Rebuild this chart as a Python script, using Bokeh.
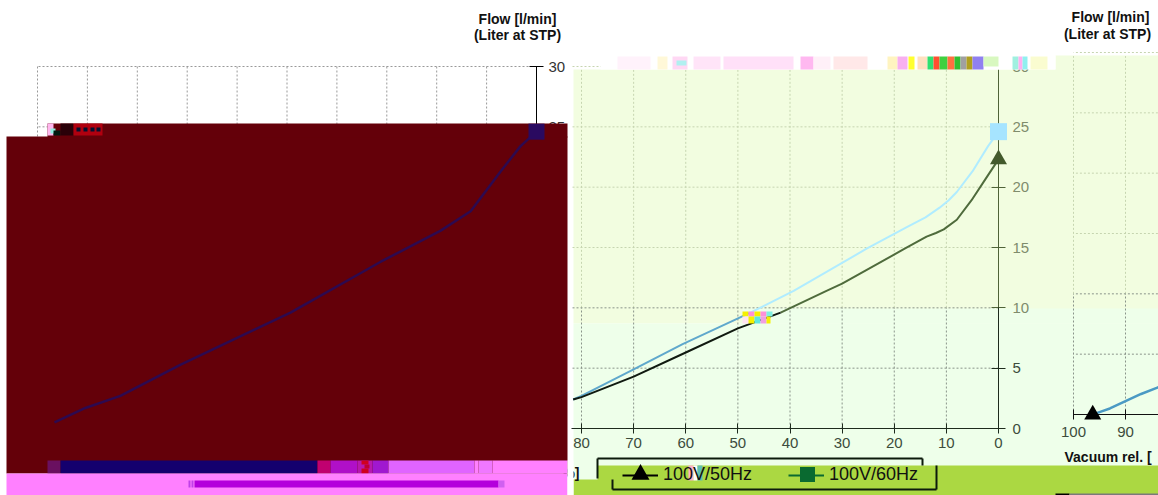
from bokeh.plotting import figure
from bokeh.models import Range1d, LinearAxis, FixedTicker, Legend, LegendItem
from bokeh.core.properties import value
from bokeh.embed import file_html
from bokeh.resources import INLINE

# ---- data (vacuum rel. %, flow l/min) ----
vac_50hz = [0, 2, 5.2, 8, 10.5, 12, 13.8, 18, 30, 33, 41.8, 50, 60, 70, 80, 81.6]
flow_50hz = [22.3, 21.0, 18.9, 17.3, 16.5, 16.2, 15.9, 14.9, 12.0, 11.4, 9.6, 8.3, 6.3, 4.3, 2.6, 2.4]
vac_60hz = [0, 2, 5, 8, 9.6, 11.3, 14, 17.5, 25.3, 39.3, 47.6, 60.6, 70, 80, 81.6]
flow_60hz = [24.6, 23.4, 21.3, 19.6, 18.9, 18.3, 17.5, 16.7, 14.9, 11.4, 9.6, 7.0, 4.9, 2.7, 2.4]
vac_left = [96.6, 90.4, 83.4, 71.3, 49.3, 31.3, 19.2, 13.2, 7.2, 3.2, 0]
flow_left = [0.5, 1.7, 2.7, 5.3, 9.6, 13.8, 16.4, 18.0, 21.3, 23.4, 24.6]
vac_third = [96.3, 95, 93, 90, 87, 84, 83]
flow_third = [0.0, 0.2, 0.5, 1.1, 1.7, 2.2, 2.4]
x_ticks = [100, 90, 80, 70, 60, 50, 40, 30, 20, 10, 0]
y_ticks = [0, 5, 10, 15, 20, 25, 30]
series_names = ["100V/50Hz", "100V/60Hz"]
title_lines = ["Flow [l/min]", "(Liter at STP)"]
x_title_start = "Vacuum rel. ["
x_title_end = "%]"

FONT = "Liberation Sans"
X0, X1, Y0, Y1 = 0, 1158, 0, 495

p = figure(width=X1 - X0, height=Y1 - Y0, output_backend="svg", toolbar_location=None,
           x_range=Range1d(X0, X1), y_range=Range1d(Y1, Y0),
           x_axis_location=None, y_axis_location=None, min_border=0,
           outline_line_color=None, background_fill_color="#ffffff")
p.xgrid.visible = False
p.ygrid.visible = False


def lin(pa, va, pb, vb, lo, hi):
    s = (vb - va) / (pb - pa)
    return Range1d(va + (lo - pa) * s, va + (hi - pa) * s)


p.extra_x_ranges = {"L": lin(37, 100, 536, 0, X0, X1), "M": lin(998, 0, 581, 80, X0, X1),
                    "R": lin(1073, 100, 1125, 90, X0, X1)}
p.extra_y_ranges = {"L": lin(428, 0, 66, 30, Y1, Y0), "M": lin(428, 0, 66, 30, Y1, Y0),
                    "R": lin(414, 0, 52, 30, Y1, Y0)}


def blocks(items, level):
    p.quad(left=[b[0] for b in items], right=[b[2] for b in items],
           top=[b[1] for b in items], bottom=[b[3] for b in items],
           fill_color=[b[4] for b in items], line_color=None, level=level)


def xaxis(name, xb, xt, color, label_color, standoff):
    ax = LinearAxis(x_range_name=name, y_range_name=name, fixed_location=0, bounds=xb,
                    ticker=FixedTicker(ticks=xt), major_tick_in=5, major_tick_out=5,
                    minor_tick_line_color=None, axis_line_color=color, major_tick_line_color=color,
                    major_label_text_font=FONT, major_label_text_font_size="15px",
                    major_label_text_color=label_color, major_label_standoff=standoff)
    p.add_layout(ax, "below")


def yaxis(name, yb, yt, color, label_color, standoff):
    ax = LinearAxis(x_range_name=name, y_range_name=name, fixed_location=0, bounds=yb,
                    ticker=FixedTicker(ticks=yt), major_tick_in=7, major_tick_out=7,
                    minor_tick_line_color=None, axis_line_color=color, major_tick_line_color=color,
                    major_label_text_font=FONT, major_label_text_font_size="15px",
                    major_label_text_color=label_color, major_label_standoff=standoff)
    p.add_layout(ax, "right")


# ---- background bands ----
UP, LOW, GREEN = "#f2fde0", "#eeffea", "#abd842"
blocks([(573, 69, 1158, 323, UP), (1055, 55, 1158, 70, UP), (573, 323, 1158, 466, LOW),
        (573, 465, 597, 480, LOW), (573, 479, 1158, 495, GREEN), (597, 465, 1158, 480, GREEN),
        (742, 308, 1158, 323, LOW)], "underlay")


# ---- grids ----
def vgrid(name, vals, lo, hi, color):
    p.segment(vals, [lo] * len(vals), vals, [hi] * len(vals), x_range_name=name, y_range_name=name,
              line_color=color, line_width=1, line_dash="2 2")


def hgrid(name, vals, lo, hi, color):
    p.segment([lo] * len(vals), vals, [hi] * len(vals), vals, x_range_name=name, y_range_name=name,
              line_color=color, line_width=1, line_dash="2 2")


vgrid("L", x_ticks[:-1], 0, 30, "#999999")
hgrid("L", y_ticks[1:], 0, 100, "#999999")
vgrid("M", x_ticks[2:-1], 10, 29.8, "#c6d5b0")
vgrid("M", x_ticks[2:-1], 0, 10, "#8a948a")
hgrid("M", y_ticks[3:], 0, 82, "#c6d5b0")
hgrid("M", y_ticks[1:3], 0, 82, "#8a948a")
vgrid("R", [100, 90], 0, 10, "#8a948a")
vgrid("R", [100, 90], 10, 29.7, "#c6d5b0")
hgrid("R", y_ticks[3:], 83, 100, "#c6d5b0")
hgrid("R", y_ticks[1:3], 83, 100, "#8a948a")

# ---- axes ----
xaxis("L", (0, 100), x_ticks, "#000000", "#333333", 5)
yaxis("L", (0, 30), y_ticks, "#000000", "#333333", 5)
xaxis("M", (0, 82), x_ticks[2:], "#1d2b1d", "#3c4c3c", 4)
yaxis("M", (10, 29.75), y_ticks[2:], "#4f6338", "#7f8c6c", 7)
yaxis("M", (0, 10), y_ticks[:2], "#1d2b1d", "#3c4c3c", 7)
xaxis("R", (83, 100), x_ticks[:2], "#111111", "#3c4c3c", 7)

# ---- series on middle panel ----
split_60 = vac_60hz.index(47.6)
split_50 = vac_50hz.index(41.8)
p.line(vac_60hz[:split_60 + 1], flow_60hz[:split_60 + 1], x_range_name="M", y_range_name="M", line_color="#b0ecff", line_width=2)
p.line(vac_60hz[split_60:], flow_60hz[split_60:], x_range_name="M", y_range_name="M", line_color="#5fa8cc", line_width=2)
p.line(vac_50hz[:split_50 + 1], flow_50hz[:split_50 + 1], x_range_name="M", y_range_name="M", line_color="#4f6b3c", line_width=2)
p.line(vac_50hz[split_50:], flow_50hz[split_50:], x_range_name="M", y_range_name="M", line_color="#101a10", line_width=2)
p.scatter(vac_60hz[:1], flow_60hz[:1], x_range_name="M", y_range_name="M", marker="square", size=17,
          fill_color="#a6e4ff", line_color=None, level="annotation")
p.scatter(vac_50hz[:1], flow_50hz[:1], x_range_name="M", y_range_name="M", marker="triangle", size=17,
          fill_color="#435a2c", line_color=None, level="annotation")

# ---- series on right panel ----
p.line(vac_third, flow_third, x_range_name="R", y_range_name="R", line_color="#4a9ac4", line_width=2.5)
p.scatter(vac_third[:1], flow_third[:1], x_range_name="R", y_range_name="R", marker="triangle", size=17,
          fill_color="#000000", line_color=None, level="annotation")

# ---- texts ----
p.text([517, 517, 1110, 1107], [18, 34, 16, 33], text=title_lines + title_lines, text_font=value(FONT),
       text_font_style="bold", text_font_size="14px", text_align="center", text_baseline="middle",
       text_color="#111111")
p.text([1064], [456], text=[x_title_start], text_font=value(FONT), text_font_style="bold",
       text_font_size="14px", text_baseline="middle", text_color="#111111")
p.text([579], [472], text=[x_title_end], text_font=value(FONT), text_font_style="bold",
       text_font_size="14px", text_align="right", text_baseline="middle", text_color="#111111")

# ---- legend ----
off = [-1e6]
d1 = p.line(off + off, off + off, line_color="#000000", line_width=2)
d2 = p.scatter(off, off, marker="triangle", size=17, fill_color="#000000", line_color=None)
d3 = p.line(off + off, off + off, line_color="#0a6a30", line_width=2)
d4 = p.scatter(off, off, marker="square", size=15, fill_color="#0a6a30", line_color=None)
legend = Legend(items=[LegendItem(label=series_names[0], renderers=[d1, d2]),
                       LegendItem(label=series_names[1], renderers=[d3, d4])],
                orientation="horizontal", location=(622, 10), padding=0, margin=0, spacing=36,
                glyph_width=36, glyph_height=20, label_standoff=5, border_line_color=None,
                background_fill_alpha=0, label_text_font=FONT, label_text_font_size="18px",
                label_text_color="#111111")
p.add_layout(legend, "center")
p.scatter([640], [474], marker="triangle", size=18, fill_color="#000000", line_color=None)
p.scatter([807], [474], marker="square", size=15, fill_color="#0a6a30", line_color=None)

# legend frame pieces
p.segment([597, 597, 922, 612, 612, 936], [458, 458, 458, 479, 489, 465],
          [922, 597, 922, 612, 936, 936], [458, 478, 465, 489, 489, 489],
          line_color="#0c1a0c", line_width=2)

# ---- overlay blocks: left region ----
blocks([(6, 136, 567, 473, "#640009"), (47, 123, 567, 137, "#640009")], "overlay")
p.line(vac_left, flow_left, x_range_name="L", y_range_name="L", line_color="#2d0a50", line_width=2.5, level="overlay")
p.scatter(vac_left[-1:], flow_left[-1:], x_range_name="L", y_range_name="L", marker="square", size=16,
          fill_color="#2a0a60", line_color=None, level="overlay")
blocks([
    (47, 123, 53, 135, "#ffb6ee"), (50, 128, 55, 133, "#90f0e0"), (53, 130, 60, 135, "#001a10"),
    (60, 123, 73, 135, "#2a0008"), (73, 123, 102, 135, "#b0000f"),
    (76, 127, 80, 131, "#041030"), (83, 127, 87, 131, "#041030"), (90, 127, 94, 131, "#041030"), (96, 127, 100, 131, "#041030"),
    (47, 460, 60, 473, "#6a1060"), (60, 460, 317, 473, "#14006e"), (317, 460, 330, 473, "#c00070"),
    (330, 460, 357, 473, "#b010c8"), (357, 460, 372, 473, "#b818b0"), (361, 460, 368, 464, "#d00020"),
    (361, 468, 368, 473, "#d00020"), (364, 464, 369, 468, "#c00030"), (372, 460, 388, 473, "#a018d0"),
    (388, 460, 474, 473, "#e064ff"), (478, 460, 492, 473, "#f078ff"),
    (474, 460, 478, 473, "#ff80ff"), (492, 460, 567, 473, "#ff80ff"),
    (6, 473, 567, 495, "#ff80ff"), (194, 480, 498, 487, "#b400dc"), (188, 480, 190, 487, "#c040e8"),
    (191, 480, 193, 487, "#c040e8"), (498, 480, 504, 487, "#d060f0"),
    (567, 460, 573, 495, "#ffffff"),
], "overlay")

# ---- overlay blocks: right region mosaic ----
blocks([
    (600, 55, 1055, 69, "#ffffff"),
    (617, 56, 650, 69, "#fff2fb"), (657, 56, 667, 69, "#fff8d8"), (672, 56, 687, 69, "#ffd8f4"),
    (676, 60, 686, 65, "#b0f0f0"), (693, 56, 720, 69, "#ffe4f8"), (723, 56, 793, 69, "#ffe0f8"),
    (800, 56, 813, 69, "#ffb8f0"), (813, 56, 830, 69, "#fff0f8"), (833, 56, 867, 69, "#ffe8e8"),
    (887, 56, 897, 69, "#fff4c0"), (897, 56, 907, 69, "#f8b0f0"), (908, 56, 914, 69, "#ffff30"),
    (917, 56, 927, 69, "#ffe0c0"), (927, 56, 933, 69, "#30e070"), (933, 56, 939, 69, "#ff5030"),
    (939, 56, 947, 69, "#40d040"), (947, 56, 954, 69, "#ff7040"), (954, 56, 960, 69, "#30c030"),
    (960, 56, 966, 69, "#a0a0a0"), (966, 56, 972, 69, "#b0a020"), (972, 56, 983, 69, "#9080f0"),
    (983, 56, 998, 66, "#d8f8c0"), (1012, 56, 1018, 69, "#a0f0e0"), (1018, 56, 1022, 69, "#ffb0f0"),
    (1022, 56, 1027, 69, "#90f0f0"), (1030, 56, 1047, 69, "#fafcd0"),
    # blob on the curves
    (742, 311, 748, 316, "#f5f000"), (748, 311, 754, 316, "#ff90d8"), (754, 311, 760, 316, "#f5f000"),
    (760, 311, 766, 316, "#ff90d8"), (766, 311, 772, 316, "#80f0e0"),
    (742, 316, 748, 323, "#ffe4f0"), (748, 316, 754, 323, "#f5f000"), (754, 316, 760, 323, "#60e8e0"),
    (760, 316, 766, 323, "#f0a0e0"), (766, 316, 770, 323, "#f5f000"),
    # legend glitch
    (688, 465, 693, 480, "#ffb0c8"), (693, 465, 697, 480, "#ffffff"), (697, 465, 702, 480, "#60c0b0"),
    # bottom-right strip
    (1055, 493, 1069, 495, "#000000"), (1069, 493, 1158, 495, "#7a7a7a"),
], "overlay")

open("out.html", "w").write(file_html(p, INLINE))
